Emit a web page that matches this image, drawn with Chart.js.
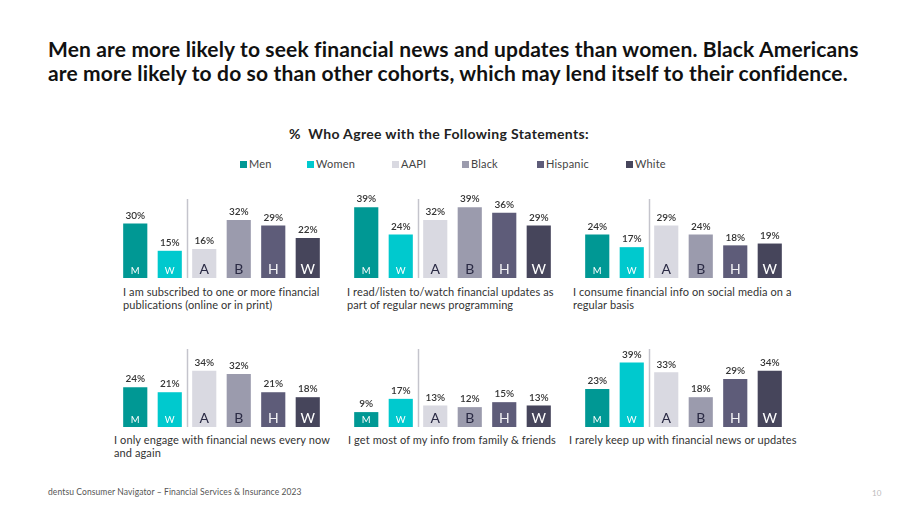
<!DOCTYPE html>
<html>
<head>
<meta charset="utf-8">
<script src="https://cdn.jsdelivr.net/npm/chart.js@4.4.1/dist/chart.umd.min.js"></script>
<style>
    html, body { margin: 0; padding: 0; background: #fff; }
    body { width: 920px; height: 518px; position: relative; overflow: hidden; font-family: Lato, "Noto Sans", sans-serif; color: #222; }
    .title { position: absolute; left: 48px; top: 37px; font-size: 21px; letter-spacing: 0.15px; font-weight: 700; line-height: 24px; color: #111; white-space: nowrap; }
    .subtitle { position: absolute; left: 0; width: 878px; top: 125px; text-align: center; font-size: 14px; letter-spacing: 0.35px; font-weight: 700; color: #222; }
    .legend-item { position: absolute; top: 157px; font-size: 11px; letter-spacing: 0.2px; color: #444; white-space: nowrap; }
    .legend-item i { display: inline-block; width: 7px; height: 7px; margin-right: 2px; vertical-align: 0px; }
    .panel { position: absolute; }
    .caption { position: absolute; font-size: 11px; letter-spacing: 0.1px; line-height: 13px; color: #333; white-space: nowrap; }
    .footer { position: absolute; left: 48px; top: 487px; font-size: 8.5px; letter-spacing: 0.1px; color: #555; }
    .page { position: absolute; left: 872px; top: 488px; font-size: 8px; color: #bbb; }
</style>
</head>
<body>
<div class="title">Men are more likely to seek financial news and updates than women. Black Americans<br>are more likely to do so than other cohorts, which may lend itself to their confidence.</div>
<div class="subtitle">%&nbsp; Who Agree with the Following Statements:</div>
<div id="legend"></div>

<canvas class="panel" id="c0" width="207" height="98" style="left:118px;top:180px"></canvas>
<canvas class="panel" id="c1" width="207" height="98" style="left:349px;top:180px"></canvas>
<canvas class="panel" id="c2" width="207" height="98" style="left:580px;top:180px"></canvas>
<canvas class="panel" id="c3" width="207" height="97" style="left:118px;top:330px"></canvas>
<canvas class="panel" id="c4" width="207" height="97" style="left:349px;top:330px"></canvas>
<canvas class="panel" id="c5" width="207" height="97" style="left:580px;top:330px"></canvas>

<div class="caption" style="left:123px;top:285px">I am subscribed to one or more financial<br>publications (online or in print)</div>
<div class="caption" style="left:347px;top:285px">I read/listen to/watch financial updates as<br>part of regular news programming</div>
<div class="caption" style="left:573px;top:285px">I consume financial info on social media on a<br>regular basis</div>
<div class="caption" style="left:114px;top:433px">I only engage with financial news every now<br>and again</div>
<div class="caption" style="left:348px;top:433px">I get most of my info from family &amp; friends</div>
<div class="caption" style="left:569px;top:433px">I rarely keep up with financial news or updates</div>

<div class="footer">dentsu Consumer Navigator – Financial Services &amp; Insurance 2023</div>
<div class="page">10</div>

<script>
    const categories = ['Men', 'Women', 'AAPI', 'Black', 'Hispanic', 'White'];
    const barLetters = ['M', 'W', 'A', 'B', 'H', 'W'];
    const colors = ['#009894', '#00c9ce', '#d9d9e1', '#9b9bad', '#5e5c79', '#46455b'];
    const letterColors = ['#ffffff', '#ffffff', '#2a2a44', '#2a2a44', '#f2f2f5', '#ffffff'];

    const subscribed = [30, 15, 16, 32, 29, 22];
    const newsProgramming = [39, 24, 32, 39, 36, 29];
    const socialMedia = [24, 17, 29, 24, 18, 19];
    const everyNowAndAgain = [24, 21, 34, 32, 21, 18];
    const familyFriends = [9, 17, 13, 12, 15, 13];
    const rarelyKeepUp = [23, 39, 33, 18, 29, 34];

    const panelData = [subscribed, newsProgramming, socialMedia, everyNowAndAgain, familyFriends, rarelyKeepUp];

    // legend
    const legendX = [240, 307, 392, 462, 537, 626];
    const legend = document.getElementById('legend');
    categories.forEach(function (name, i) {
        const d = document.createElement('div');
        d.className = 'legend-item';
        d.style.left = legendX[i] + 'px';
        d.innerHTML = '<i style="background:' + colors[i] + '"></i>' + name;
        legend.appendChild(d);
    });

    const barLabels = {
        id: 'barLabels',
        afterDatasetsDraw(chart) {
            const ctx = chart.ctx;
            const bars = chart.getDatasetMeta(0).data;
            const values = chart.data.datasets[0].data;
            const area = chart.chartArea;

            // divider between gender and ethnicity groups
            const dx = Math.round((bars[1].x + bars[2].x) / 2) + 0.5;
            ctx.save();
            ctx.strokeStyle = '#c4c4cc';
            ctx.lineWidth = 1.5;
            ctx.beginPath();
            ctx.moveTo(dx, area.top - 1);
            ctx.lineTo(dx, area.bottom);
            ctx.stroke();

            ctx.textAlign = 'center';
            bars.forEach(function (bar, i) {
                ctx.fillStyle = '#333';
                ctx.font = '600 10px Lato';
                ctx.textBaseline = 'bottom';
                ctx.fillText(values[i] + '%', bar.x, bar.y - 3);

                ctx.fillStyle = letterColors[i];
                ctx.textBaseline = 'alphabetic';
                if (i < 2) {
                    ctx.font = '9.5px Lato';
                } else {
                    ctx.font = '14px Lato';
                }
                ctx.fillText(barLetters[i], bar.x, area.bottom - 4);
            });
            ctx.restore();
        }
    };

    panelData.forEach(function (values, p) {
        const topRow = p < 3;
        new Chart(document.getElementById('c' + p).getContext('2d'), {
            type: 'bar',
            data: {
                labels: categories,
                datasets: [{
                    data: values,
                    backgroundColor: colors,
                    categoryPercentage: 1,
                    barPercentage: 0.7
                }]
            },
            options: {
                responsive: false,
                animation: false,
                layout: { padding: { top: 20, bottom: 0, left: 0, right: 0 } },
                plugins: { legend: { display: false }, tooltip: { enabled: false } },
                scales: {
                    x: { display: false },
                    y: { display: false, min: 0, max: topRow ? 43 : 46.5 }
                }
            },
            plugins: [barLabels]
        });
    });
</script>
</body>
</html>
